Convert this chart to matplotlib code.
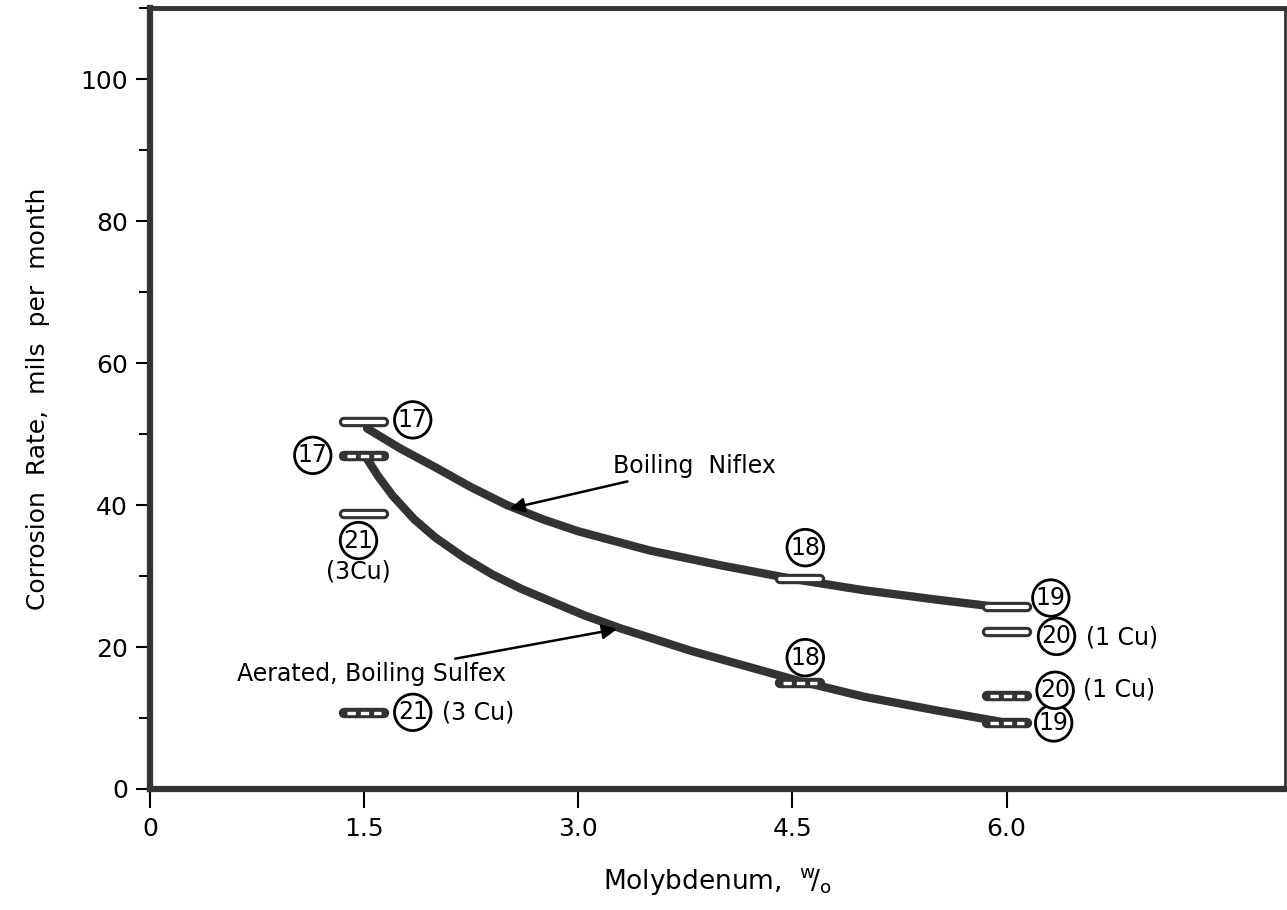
import matplotlib.pyplot as plt
from matplotlib.ticker import MultipleLocator

# Данные
alloys = ['17', '18', '19', '20', '21']
mo_niflex = [1.5, 4.55, 6.0, 6.0, 1.5]
rate_niflex = [51.7, 29.6, 25.6, 22.1, 38.7]
mo_sulfex = [1.5, 4.55, 6.0, 6.0, 1.5]
rate_sulfex = [46.9, 14.9, 9.3, 13.1, 10.7]

# сглаженные кривые (точки)
curve_niflex_x = [1.52, 1.75, 2.0, 2.25, 2.5, 2.75, 3.0, 3.5, 4.0, 4.5, 5.0, 5.5, 5.95]
curve_niflex_y = [50.8, 48.0, 45.3, 42.5, 40.0, 38.0, 36.3, 33.6, 31.5, 29.6, 28.0, 26.7, 25.6]
curve_sulfex_x = [1.52, 1.6, 1.7, 1.85, 2.0, 2.2, 2.4, 2.6, 2.8, 3.05, 3.3, 3.8, 4.3,
                  4.55, 5.0, 5.5, 5.95]
curve_sulfex_y = [46.5, 44.0, 41.3, 38.0, 35.4, 32.6, 30.2, 28.2, 26.5, 24.4, 22.6, 19.4,
                  16.6, 15.2, 13.0, 11.1, 9.5]

x_ticks = [0, 1.5, 3.0, 4.5, 6.0]
x_ticklabels = ['0', '1.5', '3.0', '4.5', '6.0']
y_ticks = [0, 20, 40, 60, 80, 100]

# смещения подписей (в единицах данных)
off_niflex = [(0.34, 0.3), (0.04, 4.4), (0.31, 1.3), (0.35, -0.6), (-0.04, -3.7)]
off_sulfex = [(-0.36, 0.1), (0.04, 3.6), (0.33, 0.0), (0.34, 0.8), (0.34, 0.1)]
cu_niflex = {3: ('(1 Cu)', 6.81, 21.4), 4: ('(3Cu)', 1.46, 30.6)}
cu_sulfex = {3: ('(1 Cu)', 6.79, 14.0), 4: ('(3 Cu)', 2.30, 10.8)}

dark = '#333333'
half_w = 0.14
fs = 17

fig = plt.figure(figsize=(12.87, 9.10), dpi=100)
ax = fig.add_axes([0.1166, 0.133, 0.8818, 0.858])

# кривые
ax.plot(curve_niflex_x, curve_niflex_y, color=dark, lw=6, solid_capstyle='round',
        solid_joinstyle='round', zorder=2)
ax.plot(curve_sulfex_x, curve_sulfex_y, color=dark, lw=6, solid_capstyle='round',
        solid_joinstyle='round', zorder=2)

# "столбики" - отметки точек
for x, y in zip(mo_niflex, rate_niflex):
    ax.plot([x - half_w, x + half_w], [y, y], color=dark, lw=7.5,
            solid_capstyle='round', zorder=3)
    ax.plot([x - half_w, x + half_w], [y, y], color='white', lw=3,
            solid_capstyle='round', zorder=4)
for x, y in zip(mo_sulfex, rate_sulfex):
    ax.plot([x - half_w, x + half_w], [y, y], color=dark, lw=7.5,
            solid_capstyle='round', zorder=3)
    ax.plot([x - half_w * 0.85, x + half_w * 0.85], [y, y], color='white', lw=2.4,
            linestyle=(0, (2.5, 1.5)), zorder=4)

circ = dict(boxstyle='circle,pad=0.14', fc='white', ec='black', lw=2)
for i, (x, y) in enumerate(zip(mo_niflex, rate_niflex)):
    dx, dy = off_niflex[i]
    ax.text(x + dx, y + dy, alloys[i], fontsize=fs, ha='center', va='center',
            bbox=circ, zorder=5)
    if i in cu_niflex:
        t, tx, ty = cu_niflex[i]
        ax.text(tx, ty, t, fontsize=fs, ha='center', va='center', zorder=5)
for i, (x, y) in enumerate(zip(mo_sulfex, rate_sulfex)):
    dx, dy = off_sulfex[i]
    ax.text(x + dx, y + dy, alloys[i], fontsize=fs, ha='center', va='center',
            bbox=circ, zorder=5)
    if i in cu_sulfex:
        t, tx, ty = cu_sulfex[i]
        ax.text(tx, ty, t, fontsize=fs, ha='center', va='center', zorder=5)

# подписи кривых со стрелками
arrow = dict(arrowstyle='-|>', color='black', lw=1.8, mutation_scale=22)
ax.annotate('Boiling  Niflex', xy=(2.5, 39.4), xytext=(3.24, 45.5),
            fontsize=fs, ha='left', va='center', arrowprops=arrow)
ax.annotate('Aerated, Boiling Sulfex', xy=(3.29, 22.6), xytext=(0.61, 16.2),
            fontsize=fs, ha='left', va='center', arrowprops=arrow)

ax.set_xlim(0, 7.95)
ax.set_ylim(0, 110)
ax.set_xticks(x_ticks)
ax.set_xticklabels(x_ticklabels)
ax.set_yticks(y_ticks)
ax.yaxis.set_minor_locator(MultipleLocator(10))
ax.tick_params(axis='both', which='major', direction='out', length=10, width=1.5,
               labelsize=18, pad=6)
ax.tick_params(axis='y', which='minor', direction='out', length=8, width=1.5)
ax.tick_params(axis='x', length=14)

for side, w in [('left', 4.5), ('bottom', 4.5), ('top', 3.5), ('right', 2.0)]:
    ax.spines[side].set_linewidth(w)
    ax.spines[side].set_color(dark)

ax.set_ylabel('Corrosion  Rate,  mils  per  month', fontsize=18, labelpad=22)
ax.set_xlabel(r'Molybdenum,  $^{\mathrm{w}}\!/_{\mathrm{o}}$', fontsize=19, labelpad=18)

fig.savefig('out.png', dpi=100)
